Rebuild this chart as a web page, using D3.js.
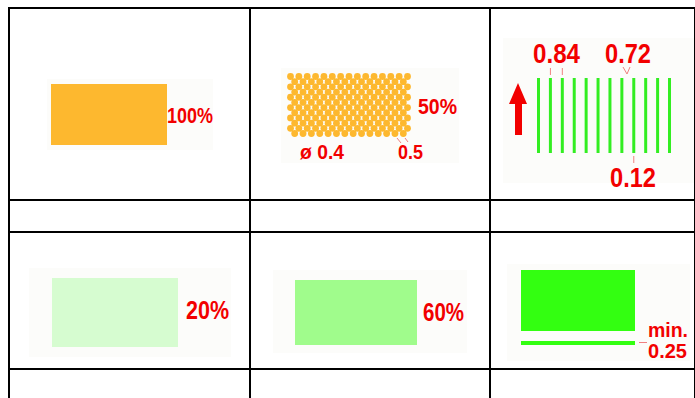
<!DOCTYPE html>
<html>
<head>
<meta charset="utf-8">
<script src="https://cdn.jsdelivr.net/npm/d3@7"></script>
<style>
  html, body { margin: 0; padding: 0; background: #fff; }
  svg { display: block; }
  text { font-family: "Liberation Sans Narrow", "Arial Narrow", "Liberation Sans", sans-serif; font-weight: bold; fill: #f20000; }
</style>
</head>
<body>
<script>
// ---- data ----
const swatchNames   = ["full", "dots", "lines", "light", "medium", "solid"];
const swatchPercent = [100, 50, null, 20, 60, null];
const swatchColors  = ["#fdb82f", "#fdb82f", "#33ee22", "#d6fcd0", "#a0fc8c", "#33ff11"];
const percentLabels = ["100%", "50%", "", "20%", "60%", ""];
const dotLabels     = ["ø 0.4", "0.5"];
const lineLabels    = ["0.84", "0.72", "0.12"];
const lineCount     = 12;
const minLabels     = ["min.", "0.25"];

// ---- layout ----
const W = 695, H = 398;
const colEdges = [9, 250, 490, 695];
const rowEdges = [8, 200, 232, 369, 420];

const svg = d3.select("body").append("svg").attr("width", W).attr("height", H);

function label(x, y, size, width, str) {
  svg.append("text").attr("x", x).attr("y", y).attr("font-size", size)
    .attr("textLength", width).attr("lengthAdjust", "spacingAndGlyphs").text(str);
}

// panels (faint backgrounds)
const panels = [
  [47, 79, 166, 71], [281, 68, 178, 95], [503, 38, 192, 145],
  [29, 268, 202, 89], [273, 270, 194, 83], [507, 264, 183, 97]
];
svg.selectAll("rect.panel").data(panels).join("rect")
  .attr("class", "panel")
  .attr("x", d => d[0]).attr("y", d => d[1]).attr("width", d => d[2]).attr("height", d => d[3])
  .attr("fill", "#fcfcfa");

// ---- cell 1: full swatch ----
const fx = d3.scaleLinear().domain([0, 100]).range([51, 167]);
svg.append("rect").attr("x", fx(0)).attr("y", 84).attr("width", fx(swatchPercent[0]) - fx(0)).attr("height", 61)
  .attr("fill", swatchColors[0]);
label(167, 123, 22, 46, percentLabels[0]);

// ---- cell 2: dot pattern ----
const nCols = 15, nRows = 12;
const dx = d3.scaleLinear().domain([0, nCols - 1]).range([290.5, 407.5]);
const dy = d3.scaleLinear().domain([0, nRows - 1]).range([76.5, 133.5]);
const dots = [];
d3.range(nRows).forEach(r => {
  const odd = r % 2 === 1;
  d3.range(odd ? nCols - 1 : nCols).forEach(c => dots.push([odd ? c + 0.5 : c, r]));
});
svg.append("g").selectAll("circle").data(dots).join("circle")
  .attr("cx", d => dx(d[0])).attr("cy", d => dy(d[1])).attr("r", 3.4)
  .attr("fill", swatchColors[1]);
label(418, 114, 22, 39, percentLabels[1]);
label(300, 159, 21, 44, dotLabels[0]);
label(398, 159, 21, 25, dotLabels[1]);
svg.append("path").attr("d", "M397,138 L401,143 M405,138 L408,142")
  .attr("stroke", "#f08080").attr("stroke-width", 1).attr("fill", "none");

// ---- cell 3: line pattern ----
const lx = d3.scaleLinear().domain([0, lineCount - 1]).range([538.5, 669.5]);
svg.append("g").selectAll("line").data(d3.range(lineCount)).join("line")
  .attr("x1", i => lx(i)).attr("x2", i => lx(i)).attr("y1", 78).attr("y2", 153)
  .attr("stroke", swatchColors[2]).attr("stroke-width", 3);
svg.append("path")
  .attr("d", "M518,83 L527,104 L522,104 L522,135 L515,135 L515,104 L509,104 Z")
  .attr("fill", "#f20000");
label(533, 63, 27, 47, lineLabels[0]);
label(605, 63, 27, 46, lineLabels[1]);
label(610, 187, 27, 46, lineLabels[2]);
svg.append("path")
  .attr("d", `M${lx(1)},68 L${lx(1)},75 M${lx(2)},68 L${lx(2)},75 M623,67 L627,74 L630,67 M${lx(8)},156 L${lx(8)},163`)
  .attr("stroke", "#f08080").attr("stroke-width", 1).attr("fill", "none");

// ---- cell 4: 20% ----
const px4 = d3.scaleLinear().domain([0, 100]).range([52, 178]);
svg.append("rect").attr("x", px4(0)).attr("y", 278).attr("width", px4(100) - px4(0)).attr("height", 69)
  .attr("fill", swatchColors[3]);
label(186, 319, 26, 43, percentLabels[3]);

// ---- cell 5: 60% ----
const px5 = d3.scaleLinear().domain([0, 100]).range([295, 417]);
svg.append("rect").attr("x", px5(0)).attr("y", 280).attr("width", px5(100) - px5(0)).attr("height", 65)
  .attr("fill", swatchColors[4]);
label(423, 321, 26, 41, percentLabels[4]);

// ---- cell 6: solid + min line ----
svg.append("rect").attr("x", 521).attr("y", 270).attr("width", 114).attr("height", 61).attr("fill", swatchColors[5]);
svg.append("rect").attr("x", 521).attr("y", 341).attr("width", 114).attr("height", 4).attr("fill", swatchColors[5]);
label(648, 337, 21, 40, minLabels[0]);
label(648, 358, 21, 39, minLabels[1]);
svg.append("line").attr("x1", 639).attr("x2", 647).attr("y1", 342.5).attr("y2", 342.5)
  .attr("stroke", "#f08080").attr("stroke-width", 1);

// ---- table grid ----
const grid = svg.append("g").attr("stroke", "#000").attr("stroke-width", 2);
rowEdges.forEach(y => grid.append("line").attr("x1", colEdges[0] - 1).attr("x2", W + 2).attr("y1", y).attr("y2", y));
colEdges.forEach(x => grid.append("line").attr("x1", x).attr("x2", x).attr("y1", rowEdges[0] - 1).attr("y2", H + 2));
</script>
</body>
</html>
